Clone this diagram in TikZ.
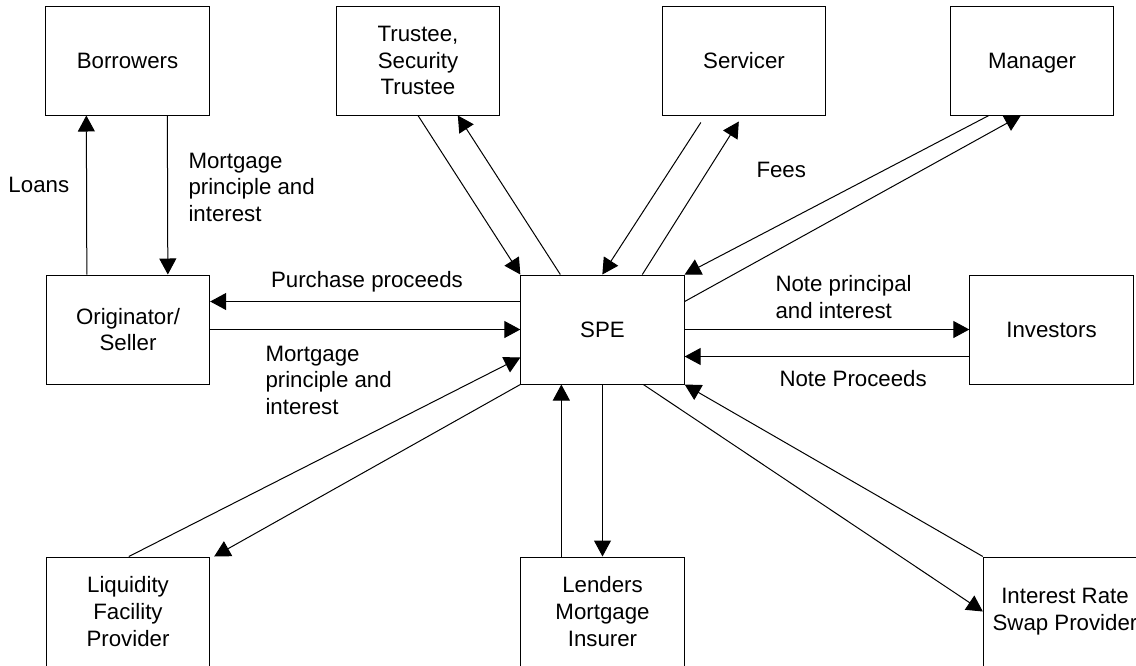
\documentclass[tikz,border=0pt]{standalone}
\usepackage{fontspec}
\setmainfont{Liberation Sans}
\usetikzlibrary{arrows.meta,calc}

\tikzset{every picture/.style={line width=0.75pt}}
\tikzset{
  party/.style={draw, align=center, inner sep=0pt, minimum width=122.5pt, minimum height=81.75pt},
  flow/.style={-{Triangle[length=12pt,width=12.75pt]}},
  lbl/.style={inner sep=0pt, align=left}
}

\begin{document}
\begin{tikzpicture}[x=0.75pt,y=0.75pt,yscale=-1,xscale=1,font=\fontsize{16.7}{19.9}\selectfont]
\clip (0,0) rectangle (1136,665);

% Boxes
\node [party] (borrowers) at (127.5,60.5) {Borrowers};
\node [party] (trustee) at (418,60.5) {Trustee,\\Security\\Trustee};
\node [party] (servicer) at (744,60.5) {Servicer};
\node [party, text depth=0pt] (manager) at (1032,60.5) {Manager};
\node [party] (orig) at (128,329.5) {Originator/\\Seller};
\node [party] (spe) at (602.5,329.5) {SPE};
\node [party] (investors) at (1051.5,329.5) {Investors};
\node [party] (liquidity) at (128,611.5) {Liquidity\\Facility\\Provider};
\node [party] (lenders) at (602.5,611.5) {Lenders\\Mortgage\\Insurer};
\node [party] (swap) at (1065,611.5) {Interest Rate\\Swap Provider};

%Straight Lines
\draw [flow] ($(orig.north west)+(41,0)$) -- ($(borrowers.south west)+(41,0)$);
\draw [flow] ($(borrowers.south west)+(122,0)$) -- ($(orig.north west)+(122,0)$);
\draw [flow] ($(spe.north west)+(0,27)$) -- ($(orig.north east)+(0,27)$);
\draw [flow] (orig.east) -- (spe.west);
\draw [flow] (spe.east) -- (investors.west);
\draw [flow] ($(investors.north west)+(0,82)$) -- ($(spe.north east)+(0,82)$);
%Trustee
\draw [flow] (trustee.south) -- (spe.north west);
\draw [flow] ($(spe.north west)+(40,0)$) -- ($(trustee.south west)+(122,0)$);
%Servicer
\draw [flow] ($(servicer.south west)+(39,7)$) -- ($(spe.north west)+(82,0)$);
\draw [flow] ($(spe.north west)+(122,0)$) -- ($(servicer.south west)+(77,6)$);
%Manager
\draw [flow] ($(manager.south west)+(39,0)$) -- (spe.north east);
\draw [flow] ($(spe.north east)+(0,27)$) -- ($(manager.south west)+(71,0)$);
%Liquidity
\draw [flow] ($(liquidity.north west)+(83,0)$) -- ($(spe.north west)+(0,83)$);
\draw [flow] (spe.south west) -- ($(liquidity.north east)+(4,0)$);
%Lenders
\draw [flow] ($(lenders.north west)+(41,0)$) -- ($(spe.south west)+(41,0)$);
\draw [flow] (spe.south) -- (lenders.north);
%Swap
\draw [flow] ($(spe.south west)+(123,0)$) -- ($(swap.north west)+(0,55)$);
\draw [flow] (swap.north west) -- (spe.south east);

% Text Node
\node [lbl, anchor=west] (loans) at (8,185) {Loans};
% Text Node
\node [lbl, anchor=west] (mpi1) at (188,187) {Mortgage\\principle and\\interest};
% Text Node
\node [lbl] (purchase) at (367,282) {Purchase proceeds};
% Text Node
\node [lbl, anchor=west] (mpi2) at (265,380) {Mortgage\\principle and\\interest};
% Text Node
\node [lbl, anchor=west] (fees) at (756,170) {Fees};
% Text Node
\node [lbl, anchor=west] (notepi) at (775,297) {Note principal\\and interest};
% Text Node
\node [lbl, anchor=west] (noteproc) at (779,379) {Note Proceeds};

\end{tikzpicture}
\end{document}
